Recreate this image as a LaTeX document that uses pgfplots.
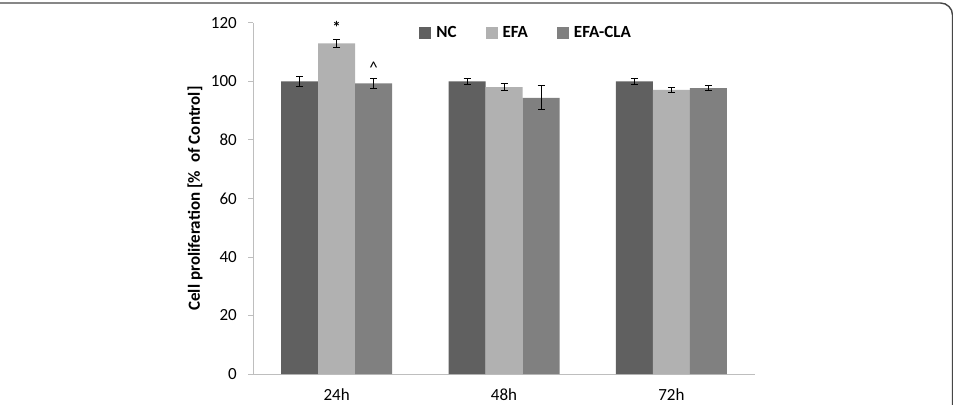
\documentclass[border=0pt]{standalone}
\usepackage{fontspec}
\setmainfont{Carlito}
\usepackage{pgfplots}
\pgfplotsset{compat=1.18}

\definecolor{barNC}{RGB}{96,96,96}
\definecolor{barEFA}{RGB}{177,177,177}
\definecolor{barCLA}{RGB}{128,128,128}
\definecolor{axisgrey}{RGB}{190,190,190}
\definecolor{framegrey}{RGB}{70,70,70}

\newcommand{\chartfont}{\fontsize{17bp}{20bp}\selectfont}

\begin{document}
\begin{tikzpicture}[x=1bp,y=1bp]
\useasboundingbox (0,0) rectangle (953,404);
% panel frame (top edge with rounded right corner)
\draw[framegrey, line width=1.4bp, rounded corners=12bp] (-10,401) -- (952.5,401) -- (952.5,-10);
\begin{axis}[
  at={(253bp,30bp)}, anchor=south west,
  scale only axis, width=502bp, height=351bp,
  clip=false,
  xmin=-0.5, xmax=2.5, ymin=0, ymax=120,
  xtick={0,1,2}, xticklabels={24h,48h,72h},
  ytick={0,20,...,120},
  axis lines*=left,
  axis line style={axisgrey, line width=1bp, -},
  tick align=outside, major tick length=5bp,
  ytick style={axisgrey, line width=1bp},
  xtick style={draw=none},
  /pgf/number format/assume math mode=true,
  yticklabel style={font=\chartfont, inner sep=0pt, anchor=east, xshift=-11bp},
  xticklabel style={font=\chartfont, inner sep=0pt, anchor=base, yshift=-21bp},
  ylabel={Cell proliferation [\%\enspace of Control]},
  ylabel style={font=\chartfont\bfseries, at={(rel axis cs:0,0.5)}, anchor=center, xshift=0pt, yshift=58bp},
  ybar=0pt, bar width=37bp,
  legend columns=3,
  legend style={at={(rel axis cs:0.331,0.9715)}, anchor=west, draw=none, fill=none,
    font=\chartfont\bfseries, inner sep=0pt,
    /tikz/every even column/.append style={column sep=27bp}},
  legend image code/.code={\fill[#1] (0bp,-6bp) rectangle (12bp,6bp); \path (15bp,0bp);},
  error bars/y dir=both, error bars/y explicit,
  error bars/error bar style={black, line width=0.8bp},
  error bars/error mark options={black, mark size=3.5bp, line width=0.8bp, rotate=90},
]
\addplot[fill=barNC, draw=none] coordinates {
  (0,100.0) +- (0,1.6)
  (1,100.0) +- (0,0.9)
  (2,100.0) +- (0,0.9)
};
\addplot[fill=barEFA, draw=none] coordinates {
  (0,113.0) +- (0,1.5)
  (1,98.1) +- (0,1.2)
  (2,97.1) +- (0,0.8)
};
\addplot[fill=barCLA, draw=none] coordinates {
  (0,99.4) +- (0,1.6)
  (1,94.4) +- (0,4.1)
  (2,97.7) +- (0,0.9)
};
\legend{NC,EFA,EFA-CLA}
% significance marks
\node[font=\chartfont\bfseries, anchor=north, inner sep=0pt] at (axis cs:0,120.7) {*};
\node[font=\chartfont, anchor=north, inner sep=0pt, xshift=37bp] at (axis cs:0,106.7) {\textasciicircum};
\end{axis}
\end{tikzpicture}
\end{document}
